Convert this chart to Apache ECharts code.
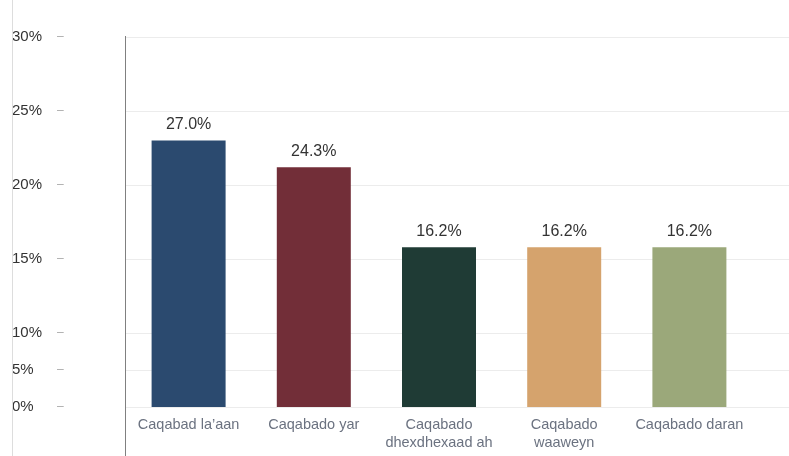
<!DOCTYPE html>
<html>
<head>
<meta charset="utf-8">
<script src="https://cdn.jsdelivr.net/npm/echarts@6/dist/echarts.min.js"></script>
<style>
html, body { margin: 0; padding: 0; background: #fff; }
#main { width: 789px; height: 456px; }
</style>
</head>
<body>
<div id="main"></div>
<script>
var categories = ['Caqabad la’aan', 'Caqabado yar', 'Caqabado\ndhexdhexaad ah', 'Caqabado\nwaaweyn', 'Caqabado daran'];
var values = [27.0, 24.3, 16.2, 16.2, 16.2];
var barColors = ['#2b4a6f', '#722e38', '#1f3b35', '#d5a36d', '#9ba87a'];

// the left scale is not linear: tick positions (in steps) and their labels
var tickPositions = [0, 1, 2, 4, 6, 8, 10];
var tickLabels = ['0%', '5%', '10%', '15%', '20%', '25%', '30%'];

var chart = echarts.init(document.getElementById('main'));

var option = {
    animation: false,
    textStyle: { fontFamily: 'Liberation Sans, Arial, sans-serif' },
    grid: [
        { left: 126, right: 37, top: 37, bottom: 49 },
        { left: 125, right: 0, top: 37, bottom: 49 }
    ],
    xAxis: [{
        type: 'category',
        gridIndex: 0,
        data: categories,
        axisLine: { show: false },
        axisTick: { show: false },
        axisLabel: {
            color: '#6b7280',
            fontSize: 14.5,
            lineHeight: 18,
            margin: 9,
            interval: 0
        }
    }, {
        type: 'value',
        gridIndex: 1,
        show: false
    }],
    yAxis: [{
        type: 'value',
        gridIndex: 0,
        min: 0,
        max: 37.5,
        show: false
    }, {
        type: 'value',
        gridIndex: 1,
        min: 0,
        max: 10,
        axisLine: { show: false },
        axisTick: { show: false, customValues: tickPositions },
        splitLine: { show: true, lineStyle: { color: '#ececec', width: 1 } },
        axisLabel: {
            customValues: tickPositions,
            align: 'left',
            margin: 113,
            formatter: function(v) {
                var i = tickPositions.indexOf(v);
                return '{a|' + (i >= 0 ? tickLabels[i] : '') + '}{b|–}';
            },
            rich: {
                a: { width: 45, fontSize: 15, color: '#333' },
                b: { fontSize: 12, color: '#aaa' }
            }
        }
    }],
    graphic: [{
        type: 'line',
        z: 100,
        shape: { x1: 12.5, y1: 0, x2: 12.5, y2: 456 },
        style: { stroke: '#dddddd', lineWidth: 1 }
    }, {
        type: 'line',
        z: 100,
        shape: { x1: 125.5, y1: 36, x2: 125.5, y2: 456 },
        style: { stroke: '#808080', lineWidth: 1 }
    }],
    series: [{
        type: 'bar',
        xAxisIndex: 0,
        yAxisIndex: 0,
        barWidth: 74,
        data: values.map(function(v, i) {
            return { value: v, itemStyle: { color: barColors[i] } };
        }),
        label: {
            show: true,
            position: 'top',
            distance: 8,
            fontSize: 16,
            color: '#333',
            formatter: function(p) { return p.value.toFixed(1) + '%'; }
        }
    }]
};

chart.setOption(option);
</script>
</body>
</html>
